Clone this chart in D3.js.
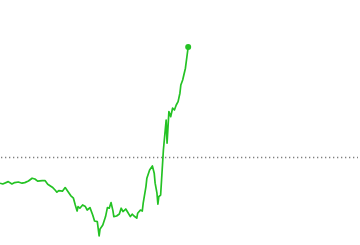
<!DOCTYPE html>
<html>
<head>
<meta charset="utf-8">
<script src="https://cdn.jsdelivr.net/npm/d3@7"></script>
<style>
body { margin: 0; background: #fff; }
</style>
</head>
<body>
<div></div>
<script>
// minutes since open
var times = [0, 3, 9, 13, 16, 20, 24, 27, 31, 35, 38, 41, 46, 49, 52, 57, 60, 62, 64, 68,
  71, 74, 77, 80, 82, 84, 85, 87, 90, 93, 95, 98, 101, 103, 106, 108, 109, 112, 115, 117,
  119, 121, 123, 124, 127, 130, 132, 134, 137, 139, 142, 144, 146, 149, 150, 153, 155, 156, 159, 160,
  163, 166, 168, 169, 171, 172, 173, 175, 178, 180, 181, 182, 184, 186, 188, 190, 192, 194, 196, 197,
  199, 202, 205]
var prices = [18.69, 18.65, 18.77, 18.65, 18.72, 18.75, 18.69, 18.72, 18.80, 18.94, 18.90, 18.79, 18.82, 18.82, 18.64, 18.49, 18.35, 18.24, 18.32, 18.29,
  18.47, 18.27, 18.07, 17.94, 17.60, 17.30, 17.52, 17.44, 17.60, 17.52, 17.35, 17.47, 17.10, 16.80, 16.77, 16.05, 16.40, 16.60, 17.02, 17.47,
  17.44, 17.72, 17.32, 17.02, 17.05, 17.15, 17.44, 17.27, 17.40, 17.25, 17.02, 17.14, 17.05, 16.94, 17.19, 17.35, 17.30, 17.69, 18.52, 18.94,
  19.35, 19.55, 19.19, 18.69, 18.19, 17.64, 18.02, 18.10, 20.35, 21.35, 21.85, 20.69, 22.27, 22.02, 22.44, 22.35, 22.60, 22.77, 23.19, 23.60,
  23.85, 24.44, 25.50]
var prevClose = 20.00
var sessionMinutes = [0, 390]
var priceRange = [15.6, 27.85]

var width = 360, height = 245

var svg = d3.select("div")
  .append("svg")
  .attr("width", width)
  .attr("height", height)
  .style("display", "block")

svg.append("rect")
  .attr("width", width)
  .attr("height", height)
  .attr("fill", "#fff")

var x = d3.scaleLinear().domain(sessionMinutes).range([0, 358])
var y = d3.scaleLinear().domain(priceRange).range([height, 0])

var data = times.map((t, i) => ({ t: t, p: prices[i] }))

// previous close
svg.append("line")
  .attr("x1", x(sessionMinutes[0]) + 1)
  .attr("x2", x(sessionMinutes[1]))
  .attr("y1", Math.round(y(prevClose)) + 0.5)
  .attr("y2", Math.round(y(prevClose)) + 0.5)
  .attr("stroke", "#7f7f7f")
  .attr("stroke-width", 1.3)
  .attr("stroke-dasharray", "1.3,2.7")

var line = d3.line()
  .x(d => x(d.t))
  .y(d => y(d.p))

svg.append("path")
  .datum(data)
  .attr("d", line)
  .attr("fill", "none")
  .attr("stroke", "#24c224")
  .attr("stroke-width", 1.7)
  .attr("stroke-linejoin", "round")

var last = data[data.length - 1]
svg.append("circle")
  .attr("cx", x(last.t))
  .attr("cy", y(last.p))
  .attr("r", 3)
  .attr("fill", "#24c224")
</script>
</body>
</html>
